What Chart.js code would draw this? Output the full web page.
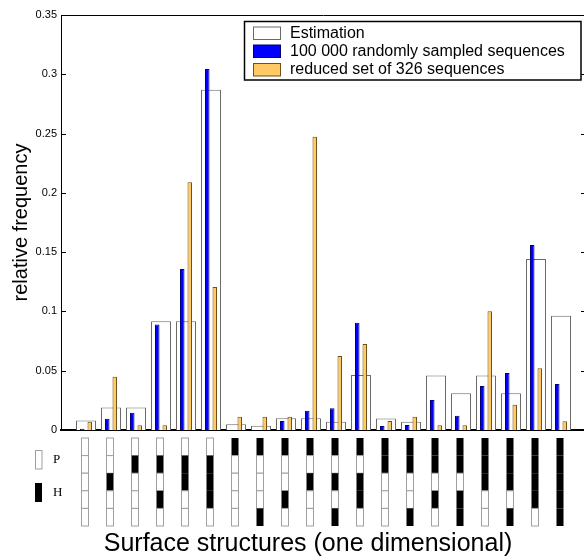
<!DOCTYPE html>
<html>
<head>
<meta charset="UTF-8">
<title>Surface structures</title>
<style>
  html, body { margin: 0; padding: 0; overflow: hidden; background: #fff; }
  #wrap { position: relative; width: 590px; height: 558px; }
</style>
</head>
<body>
<div id="wrap"><canvas id="myChart"></canvas></div>

<script src="https://cdn.jsdelivr.net/npm/chart.js@4.4.0/dist/chart.umd.min.js"></script>
<script>
// surface structure patterns, top to bottom (H = hydrophobic, P = polar)
var categories = ['PPPPP','PPHPP','PHPPP','PHPHP','PHHPP','PHHHP','HPPPP','HPPPH','HPPHP','HPHPP',
                  'HPHPH','HPHHP','HHPPP','HHPPH','HHPHP','HHPHH','HHHPP','HHHPH','HHHHP','HHHHH'];
var estimation = [0.008, 0.019, 0.019, 0.0917, 0.0917, 0.287, 0.0048, 0.0036, 0.010, 0.010,
                  0.007, 0.0464, 0.0098, 0.007, 0.046, 0.031, 0.046, 0.031, 0.1442, 0.0964];
var sampled = [0.001, 0.0095, 0.0146, 0.089, 0.1358, 0.3045, 0, 0, 0.0076, 0.0163,
               0.0183, 0.0905, 0.0034, 0.0042, 0.0253, 0.0121, 0.0371, 0.0481, 0.156, 0.0388];
var reduced = [0.007, 0.045, 0.004, 0.004, 0.2089, 0.1206, 0.0112, 0.0112, 0.0112, 0.2474,
               0.0624, 0.0725, 0.0076, 0.0112, 0.004, 0.004, 0.1001, 0.0214, 0.052, 0.0073];
var yTicks = [0, 0.05, 0.1, 0.15, 0.2, 0.25, 0.3, 0.35];

// pad one empty slot on each side so the categories sit at 1..20
function pad(a) { return [null].concat(a, [null]); }
var labels = [''].concat(categories, ['']);

var font = 'Liberation Sans, Helvetica, Arial, sans-serif';

var decor = {
  id: 'decor',
  afterDraw: function(chart) {
    var c = chart.ctx, a = chart.chartArea;
    var xs = chart.scales.x, ys = chart.scales.y;
    c.save();
    // frame top line
    c.strokeStyle = '#000';
    c.lineWidth = 1;
    c.beginPath();
    c.moveTo(a.left, Math.round(a.top) + 0.5);
    c.lineTo(a.right, Math.round(a.top) + 0.5);
    c.stroke();
    // inward ticks on both sides
    yTicks.forEach(function(v) {
      var y = Math.round(ys.getPixelForValue(v)) + 0.5;
      c.beginPath();
      c.moveTo(a.left, y); c.lineTo(a.left + 5, y);
      c.moveTo(a.right - 5, y); c.lineTo(a.right, y);
      c.stroke();
    });

    // legend
    var lx = 244.5, ly = 21.5, lw = 336.5, lh = 58.5;
    c.fillStyle = '#fff';
    c.fillRect(lx, ly, lw, lh);
    c.lineWidth = 1.5;
    c.strokeStyle = '#000';
    c.strokeRect(lx, ly, lw, lh);
    var rows = [27, 45, 63.5];
    c.font = '16px ' + font;
    c.textBaseline = 'middle';
    chart.data.datasets.forEach(function(ds, i) {
      var y = rows[i];
      c.fillStyle = ds.backgroundColor;
      c.fillRect(253.5, y, 27, 12.5);
      c.lineWidth = 1;
      c.strokeStyle = ds.borderColor;
      c.strokeRect(253.5, y, 27, 12.5);
      c.fillStyle = '#000';
      c.fillText(ds.label, 290, y + 6.5);
    });

    // pattern strips under each category
    var top = 438, cell = 17.6, w = 7;
    categories.forEach(function(p, i) {
      var cx = xs.getPixelForValue(i + 1) - 1.6;
      var x0 = Math.round(cx - w / 2) + 0.5;
      for (var k = 0; k < p.length; k++) {
        var y0 = top + k * cell;
        if (p[k] === 'H') {
          c.fillStyle = '#000';
          c.fillRect(x0, y0, w, cell);
        } else {
          c.fillStyle = '#fff';
          c.fillRect(x0, y0, w, cell);
          c.strokeStyle = '#a0a0a0';
          c.lineWidth = 1;
          c.strokeRect(x0, y0, w, cell);
        }
      }
    });
    // P / H key
    c.fillStyle = '#fff';
    c.strokeStyle = '#a0a0a0';
    c.strokeRect(35.5, 450.5, 6.5, 18.5);
    c.fillStyle = '#000';
    c.fillRect(35, 483, 7, 19);
    c.font = '13px Liberation Serif, DejaVu Serif, serif';
    c.textAlign = 'left';
    c.fillText('P', 53, 460);
    c.fillText('H', 53, 493);

    // x title
    c.font = '25px ' + font;
    c.textAlign = 'center';
    c.textBaseline = 'alphabetic';
    c.fillText('Surface structures (one dimensional)', 308, 551);
    c.restore();
  }
};

var ctx = document.getElementById('myChart').getContext('2d');
var myChart = new Chart(ctx, {
  type: 'bar',
  data: {
    labels: labels,
    datasets: [{
      label: 'Estimation',
      data: pad(estimation),
      backgroundColor: '#ffffff',
      borderColor: '#6a6a6a',
      borderWidth: 1,
      grouped: false,
      categoryPercentage: 1,
      barPercentage: 0.8,
      order: 2
    }, {
      label: '100 000 randomly sampled sequences',
      data: pad(sampled),
      backgroundColor: '#0000ff',
      borderColor: '#000070',
      borderWidth: 1,
      categoryPercentage: 0.6,
      barPercentage: 0.6,
      order: 1
    }, {
      label: 'reduced set of 326 sequences',
      data: pad(reduced),
      backgroundColor: '#ffc966',
      borderColor: '#6e5218',
      borderWidth: 1,
      categoryPercentage: 0.6,
      barPercentage: 0.6,
      order: 1
    }]
  },
  options: {
    responsive: true,
    maintainAspectRatio: false,
    animation: false,
    layout: { padding: { top: 15, right: 4, left: 0, bottom: 0 } },
    plugins: {
      legend: { display: false },
      tooltip: { enabled: false }
    },
    scales: {
      x: {
        type: 'category',
        offset: false,
        grid: { display: false, drawTicks: false },
        border: { display: true, color: '#000', width: 2 },
        ticks: { display: false },
        afterFit: function(s) { s.height = 128; }
      },
      y: {
        min: 0,
        max: 0.35,
        grid: { display: false, drawTicks: false },
        border: { display: true, color: '#000', width: 1 },
        ticks: {
          stepSize: 0.05,
          padding: 4,
          color: '#000',
          font: { family: font, size: 11 },
          callback: function(v) { return String(+v.toFixed(2)); }
        },
        title: {
          display: true,
          text: 'relative frequency',
          color: '#000',
          font: { family: font, size: 20 },
          padding: { top: 9, bottom: 0 }
        },
        afterFit: function(s) { s.width = 61; }
      }
    }
  },
  plugins: [decor]
});
</script>
</body>
</html>
